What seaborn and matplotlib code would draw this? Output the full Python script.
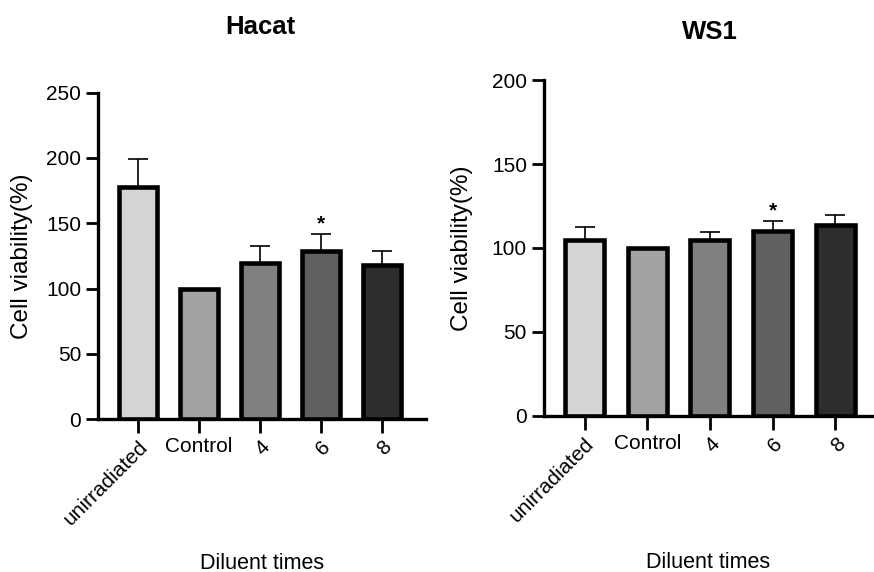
import numpy as np
import matplotlib
matplotlib.use("Agg")
import matplotlib.pyplot as plt
import seaborn as sns

CATEGORIES = ["unirradiated", "Control", "4", "6", "8"]
BAR_COLORS = ["#d4d4d4", "#a2a2a6", "#808080", "#606060", "#2d2d2d"]

HACAT_MEAN = [178, 100, 120, 129, 118]
HACAT_ERR = [21, 0, 13, 12.5, 10.5]
HACAT_STAR = [False, False, False, True, False]

WS1_MEAN = [104.5, 100, 104.5, 110, 113.5]
WS1_ERR = [8, 0, 5, 6, 6]
WS1_STAR = [False, False, False, True, False]

FONT = ["Liberation Sans", "DejaVu Sans"]


def draw_panel(ax, means, errs, stars, ymax, step, xlim, ylab_x, xlab_y):
    sns.barplot(
        x=CATEGORIES,
        y=means,
        hue=CATEGORIES,
        palette=BAR_COLORS,
        legend=False,
        width=0.62,
        edgecolor="black",
        linewidth=3.3,
        ax=ax,
        zorder=3,
    )
    xs = np.arange(len(CATEGORIES))
    lower = np.zeros(len(errs))
    ax.errorbar(
        xs, means, yerr=[lower, errs], fmt="none", ecolor="black",
        elinewidth=1.2, capsize=7.5, capthick=1.2, zorder=2,
    )
    for x, m, e, s in zip(xs, means, errs, stars):
        if s:
            ax.text(x, m + e + ymax * 0.002, "*", ha="center", va="bottom",
                    fontsize=15, fontweight="bold", family=FONT, color="black")

    ax.set_ylim(0, ymax)
    ax.set_xlim(*xlim)
    ax.set_yticks(np.arange(0, ymax + 1, step))
    ax.set_ylabel("Cell viability(%)", fontsize=17.5, family=FONT, color="black")
    ax.set_xlabel("Diluent times", fontsize=15.5, family=FONT, color="black")
    ax.yaxis.set_label_coords(ylab_x, 0.5)
    ax.xaxis.set_label_coords(0.5, xlab_y)

    sns.despine(ax=ax)
    for side in ["left", "bottom"]:
        ax.spines[side].set_linewidth(2.4)
        ax.spines[side].set_color("black")
    ax.tick_params(axis="y", left=True, length=9, width=2, labelsize=15,
                   pad=3, colors="black")
    ax.tick_params(axis="x", bottom=True, length=10, width=2, labelsize=15,
                   pad=3, colors="black")
    for lab in ax.get_yticklabels():
        lab.set_family(FONT)
    for lab in ax.get_xticklabels():
        lab.set_family(FONT)
        if lab.get_text() == "Control":
            lab.set_rotation(0)
            lab.set_ha("center")
        else:
            lab.set_rotation(45)
            lab.set_ha("right")
            lab.set_rotation_mode("anchor")


sns.set_style("white")
fig = plt.figure(figsize=(8.74, 5.72), dpi=100)

ax1 = fig.add_axes([0.112, 0.267, 0.375, 0.571])
draw_panel(ax1, HACAT_MEAN, HACAT_ERR, HACAT_STAR, 250, 50, (-0.656, 4.72),
           -0.198, -0.408)
fig.text(0.2975, 0.952, "Hacat", ha="center", va="center",
         fontsize=18.5, fontweight="bold", family=FONT, color="black")

ax2 = fig.add_axes([0.622, 0.273, 0.376, 0.587])
draw_panel(ax2, WS1_MEAN, WS1_ERR, WS1_STAR, 200, 50, (-0.653, 4.59),
           -0.216, -0.405)
fig.text(0.812, 0.944, "WS1", ha="center", va="center",
         fontsize=18.5, fontweight="bold", family=FONT, color="black")

fig.savefig("out.png", dpi=100)
